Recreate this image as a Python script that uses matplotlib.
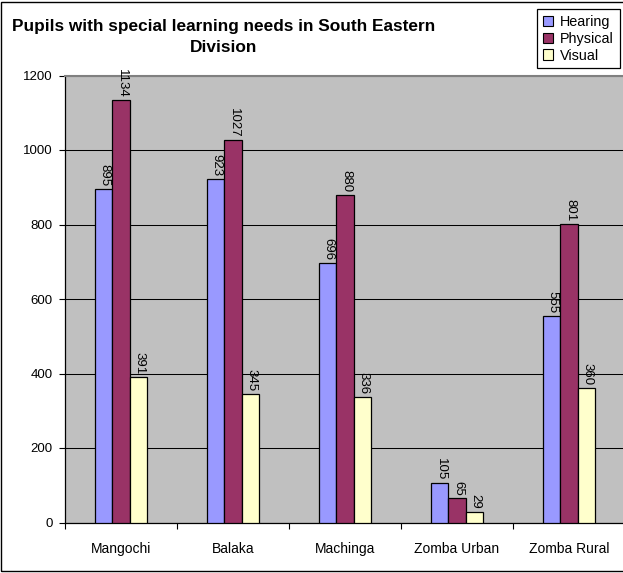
import matplotlib
matplotlib.use("Agg")
import matplotlib.pyplot as plt
import numpy as np
from matplotlib.patches import Rectangle

plt.rcParams["font.family"] = ["Liberation Sans", "DejaVu Sans"]

districts = ["Mangochi", "Balaka", "Machinga", "Zomba Urban", "Zomba Rural"]
hearing = [895, 923, 696, 105, 555]
physical = [1134, 1027, 880, 65, 801]
visual = [391, 345, 336, 29, 360]

series = [("Hearing", hearing, "#9999FF"),
          ("Physical", physical, "#993366"),
          ("Visual", visual, "#FFFFCC")]

W, H = 623, 573
fig = plt.figure(figsize=(W / 100, H / 100), dpi=100)
fig.patch.set_facecolor("white")

# outer chart border (runs off the right edge like the original)
fig.patches.append(Rectangle((1 / W, 2 / H), 1.2, 1 - 4 / H, transform=fig.transFigure,
                             fill=False, edgecolor="black", linewidth=1.0))

ax = fig.add_axes([65 / W, 1 - 522.5 / H, 560 / W, 447 / H])
ax.set_facecolor("#C0C0C0")

x = np.arange(len(districts)) + 0.5
bw = 0.156
for i, (name, vals, col) in enumerate(series):
    xs = x + (i - 1) * bw
    ax.bar(xs, vals, width=bw, color=col, edgecolor="black", linewidth=0.9,
           label=name, zorder=3)
    for xi, v in zip(xs, vals):
        ax.annotate(str(v), (xi, v), xytext=(0.8, 2), textcoords="offset points",
                    rotation=270, ha="center", va="bottom", fontsize=9.5,
                    zorder=4, annotation_clip=False)

ax.set_xlim(0, len(districts))
ax.set_ylim(0, 1200)
ax.set_yticks(range(0, 1201, 200))
ax.yaxis.grid(True, color="black", linewidth=0.75, zorder=1)
ax.set_axisbelow(True)
ax.tick_params(axis="y", direction="out", length=4, width=0.8, pad=5, labelsize=9.5)

ax.set_xticks(x)
ax.set_xticklabels(districts, fontsize=10)
ax.set_xticks(np.arange(0, len(districts) + 1), minor=True)
ax.tick_params(axis="x", which="major", length=0, pad=14)
ax.tick_params(axis="x", which="minor", direction="out", length=4, width=0.8)

for s in ("left", "bottom"):
    ax.spines[s].set_color("black")
    ax.spines[s].set_linewidth(0.9)
for s in ("top", "right"):
    ax.spines[s].set_color("#808080")
    ax.spines[s].set_linewidth(1.5)

fig.text(224 / W, 1 - 19 / H,
         "Pupils with special learning needs in South Eastern\nDivision",
         ha="center", va="top", ma="center", fontsize=12.4, fontweight="bold",
         linespacing=1.5)

handles = [Rectangle((0, 0), 1, 1, facecolor=c, edgecolor="black", linewidth=0.8)
           for _, _, c in series]
leg = fig.legend(handles, [n for n, _, _ in series], loc="upper left",
                 bbox_to_anchor=(537 / W, 1 - 9 / H), fontsize=10.4,
                 frameon=True, fancybox=False, framealpha=1, edgecolor="black",
                 borderpad=0.4, borderaxespad=0, handlelength=0.7,
                 handleheight=0.7, handletextpad=0.5, labelspacing=0.2)
leg.get_frame().set_linewidth(0.9)

fig.savefig("out.png", dpi=100)
